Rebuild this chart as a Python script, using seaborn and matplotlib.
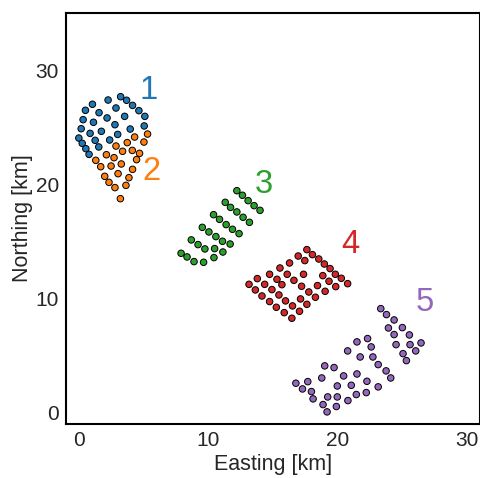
import numpy as np
import pandas as pd
import matplotlib
matplotlib.use("Agg")
import matplotlib.pyplot as plt
import seaborn as sns

# Cluster 1 (blue)
c1_x = [3.23, 3.69, 4.15, 4.64, 5.10, 5.05, 1.05, 2.26, 0.51, 1.56, 2.87, 0.33, 2.18, 3.54,
        0.18, 1.13, 2.79, 3.97, 0.00, 0.87, 1.74, 3.00, 0.26, 1.26, 2.38, 0.54, 1.54, 0.79]
c1_y = [27.66, 27.35, 26.90, 26.44, 25.94, 25.10, 27.00, 27.37, 26.47, 26.26, 26.67, 25.65, 25.80, 25.94,
        24.86, 25.42, 25.21, 24.83, 24.04, 24.45, 24.63, 24.36, 23.58, 23.84, 23.87, 23.11, 23.26, 22.61]
# Cluster 2 (orange)
c2_x = [5.31, 4.31, 5.03, 3.74, 2.87, 3.38, 4.13, 4.69, 2.13, 2.72, 4.46, 1.31, 3.28, 1.69,
        2.49, 4.15, 2.00, 3.03, 3.87, 2.33, 2.79, 3.64, 3.21]
c2_y = [24.39, 24.13, 23.69, 23.64, 23.34, 22.88, 22.96, 22.70, 22.58, 22.32, 22.15, 22.09, 21.77, 21.53,
        21.59, 21.30, 20.69, 20.92, 20.57, 20.16, 19.70, 19.90, 18.73]
# Cluster 3 (green)
c3_x = [12.21, 12.64, 13.08, 13.54, 14.00, 11.31, 11.72, 12.21, 12.69, 13.18, 10.41, 10.87, 11.38, 11.87,
        12.38, 9.54, 10.05, 10.59, 11.10, 11.69, 8.69, 9.21, 9.74, 10.49, 11.13, 7.90, 8.36, 8.90, 9.64, 10.44]
c3_y = [19.43, 19.03, 18.56, 18.12, 17.71, 18.41, 17.97, 17.57, 17.10, 16.66, 17.33, 16.92, 16.46, 16.05,
        15.67, 16.22, 15.82, 15.41, 15.00, 14.76, 15.12, 14.71, 14.33, 14.36, 14.06, 13.95, 13.63, 13.22, 13.16, 13.57]
# Cluster 4 (red)
c4_x = [17.62, 18.05, 18.54, 18.97, 19.41, 19.82, 20.28, 20.77, 16.95, 17.46, 16.28, 15.54, 14.74, 13.79,
        13.15, 16.10, 17.36, 15.31, 16.62, 18.85, 14.36, 15.69, 17.21, 19.33, 19.85, 13.64, 14.92, 18.44,
        17.77, 19.03, 14.15, 15.46, 18.28, 14.74, 15.97, 17.13, 17.62, 15.26, 16.51, 15.87, 17.05, 16.46]
c4_y = [14.27, 13.83, 13.45, 13.01, 12.61, 12.11, 11.76, 11.29, 13.71, 13.31, 13.10, 12.66, 12.11, 11.73,
        11.23, 12.11, 12.11, 11.67, 11.58, 11.99, 11.23, 11.20, 11.06, 11.50, 11.03, 10.74, 10.77, 11.12,
        10.56, 10.62, 10.21, 10.30, 10.10, 9.72, 9.78, 9.95, 9.48, 9.22, 9.34, 8.75, 8.87, 8.26]
# Cluster 5 (purple)
c5_x = [23.33, 23.77, 24.36, 23.92, 25.00, 24.36, 25.54, 24.51, 25.59, 26.44, 25.05, 26.03, 25.31,
        21.49, 22.31, 20.77, 22.59, 21.74, 22.72, 23.13, 23.74, 24.10, 19.00, 19.72, 18.77, 20.46, 21.49,
        22.26, 23.13, 16.77, 17.69, 17.28, 19.97, 21.05, 17.97, 18.10, 19.23, 19.97, 21.44, 22.21, 20.79,
        18.87, 19.90, 19.18]
c5_y = [9.10, 8.58, 8.11, 7.41, 7.44, 6.83, 6.80, 5.95, 5.95, 6.10, 5.16, 5.40, 4.55,
        6.19, 6.48, 5.40, 5.75, 4.87, 4.87, 4.20, 3.65, 3.03, 4.09, 3.94, 3.03, 3.21, 3.38,
        2.74, 2.25, 2.57, 2.71, 2.07, 2.33, 2.39, 1.84, 1.20, 1.37, 1.37, 1.58, 1.75, 1.05,
        0.70, 0.53, 0.06]

cluster_names = ["1", "2", "3", "4", "5"]
label_x = [5.40, 5.60, 14.30, 20.95, 26.75]
label_y = [28.20, 21.10, 19.95, 14.70, 9.60]

xs = [c1_x, c2_x, c3_x, c4_x, c5_x]
ys = [c1_y, c2_y, c3_y, c4_y, c5_y]
df = pd.concat([pd.DataFrame({"x": x, "y": y, "cluster": n}) for x, y, n in zip(xs, ys, cluster_names)],
               ignore_index=True)

sns.set_style("white")
plt.rcParams["font.family"] = ["Liberation Sans", "DejaVu Sans"]
colors = sns.color_palette("tab10", 5)

fig = plt.figure(figsize=(4.81, 4.78), dpi=100)
ax = fig.add_axes([0.137, 0.113, 0.861, 0.860])
sns.scatterplot(data=df, x="x", y="y", hue="cluster", palette=colors, s=22,
                edgecolor="black", linewidth=0.7, legend=False, ax=ax)

for n, lx, ly, c in zip(cluster_names, label_x, label_y, colors):
    ax.text(lx, ly, n, color=c, fontsize=23.5, ha="center", va="center")

ax.set_xlim(-1, 31)
ax.set_ylim(-1, 35)
ax.set_xticks([0, 10, 20, 30])
ax.set_yticks([0, 10, 20, 30])
ax.tick_params(labelsize=15, colors=".15", length=0, pad=5)
ax.set_xlabel("Easting [km]", fontsize=15.5, color=".15", labelpad=3)
ax.set_ylabel("Northing [km]", fontsize=15.5, color=".15", labelpad=2)
for sp in ax.spines.values():
    sp.set_color("black")
    sp.set_linewidth(1.5)

fig.savefig("out.png", dpi=100)
